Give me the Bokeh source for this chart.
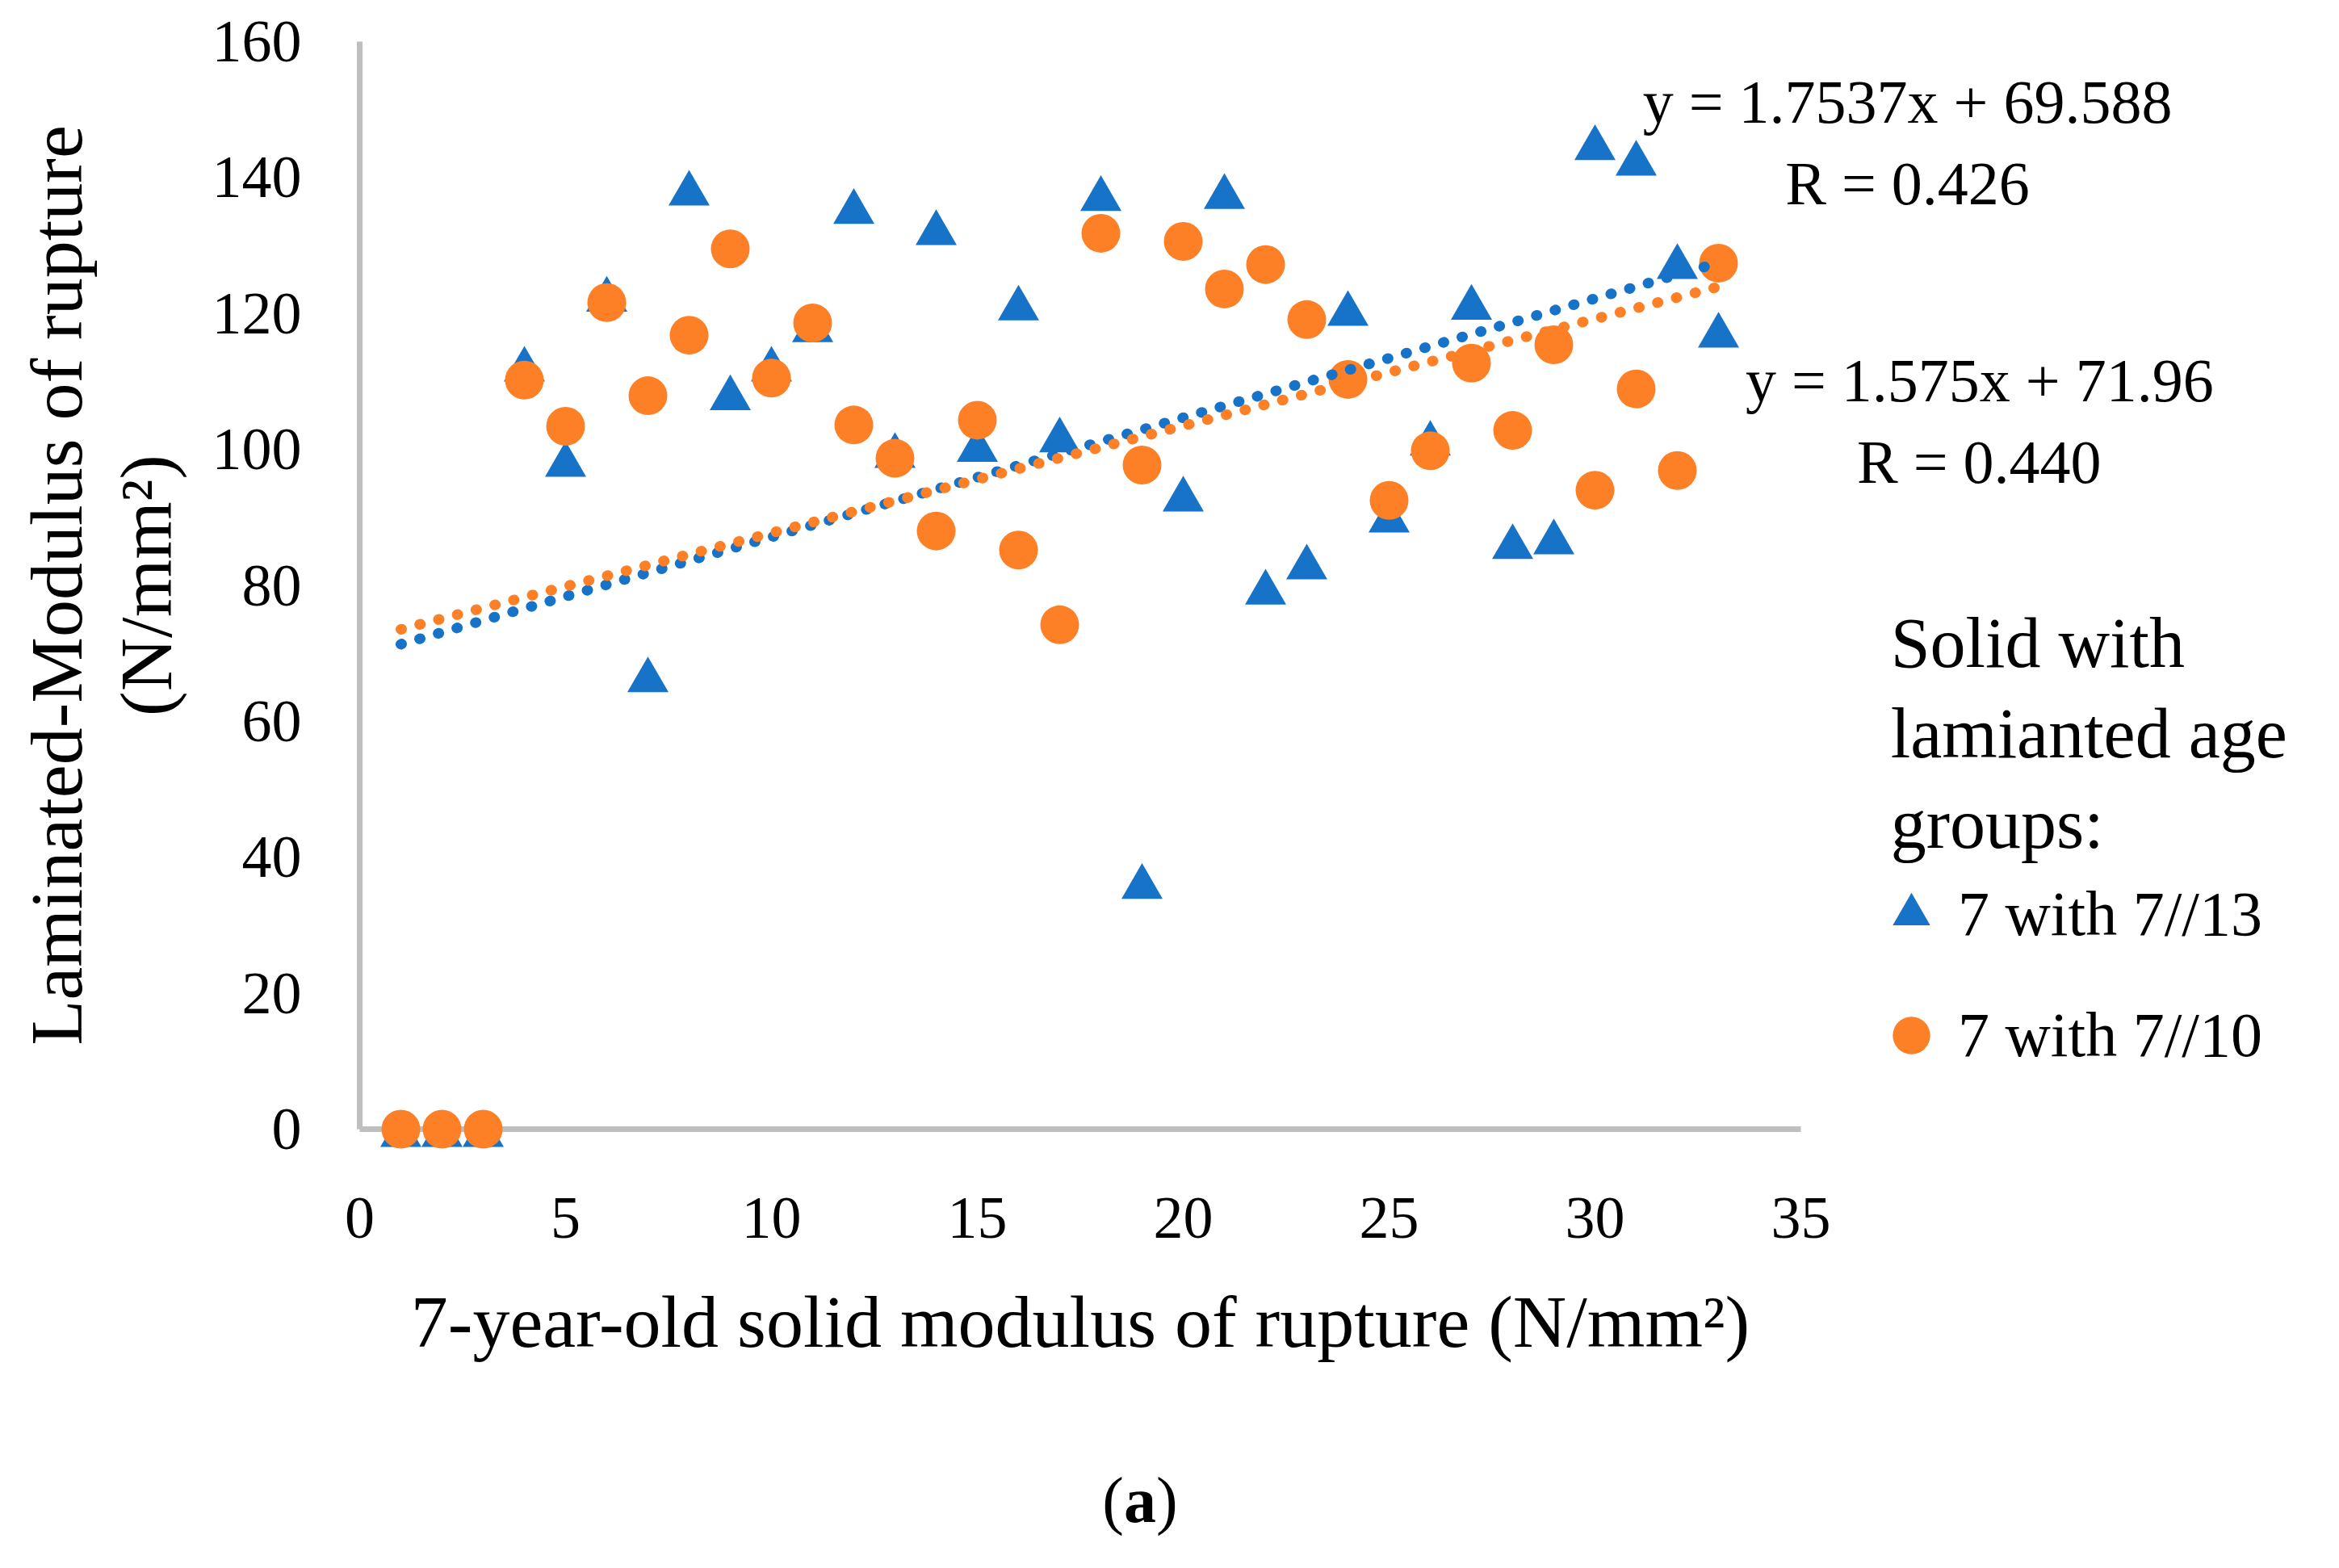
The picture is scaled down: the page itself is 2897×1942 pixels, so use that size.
import math

from bokeh.plotting import figure
from bokeh.models import (ColumnDataSource, Range1d, FixedTicker, Label,
                          Legend, LegendItem)
from bokeh.transform import dodge
from bokeh.embed import file_html
from bokeh.resources import INLINE

# data
sample = [1, 2, 3, 4, 5, 6, 7, 8, 9, 10, 11, 12, 13, 14, 15, 16, 17,
          18, 19, 20, 21, 22, 23, 24, 25, 26, 27, 28, 29, 30, 31, 32, 33]
lam_7_13 = [0, 0, 0, 112.6, 98.6, 122.9, 66.9, 138.5, 108.4, 112.6, 118.4,
            135.8, 99.9, 132.7, 100.8, 121.6, 102.2, 137.7, 36.5, 93.5, 138.0,
            79.8, 83.5, 120.8, 90.4, 101.7, 121.7, 86.5, 87.2, 145.2, 142.9,
            127.7, 117.6]
lam_7_10 = [0, 0, 0, 110.2, 103.4, 121.6, 107.9, 116.8, 129.5, 110.5, 118.6,
            103.6, 98.7, 88.0, 104.3, 85.2, 74.2, 131.8, 97.7, 130.6, 123.6,
            127.2, 119.1, 110.3, 92.5, 99.8, 112.7, 102.8, 115.4, 94.0, 108.9,
            96.9, 127.4]

# trendlines as given on the chart
trend_13 = (1.7537, 69.588)
trend_10 = (1.575, 71.96)
trend_x = [1, 33]

x_ticks = [0, 5, 10, 15, 20, 25, 30, 35]
y_ticks = [0, 20, 40, 60, 80, 100, 120, 140, 160]

BLUE = "#1773C8"
ORANGE = "#FD7F26"
GREY = "#BFBFBF"
FONT = "Liberation Serif"

# whole canvas is the frame; axes sit at x=0 / y=0
W, H = 2880, 1925
X0_PX, XPU = 445, 1785 / 35      # canvas px of x=0, px per x unit
Y0_PX, YPU = 1398, 1347 / 160    # canvas px (from top) of y=0, px per y unit

p = figure(width=W, height=H,
           x_range=Range1d(-X0_PX / XPU, (W - X0_PX) / XPU),
           y_range=Range1d(-(H - Y0_PX) / YPU, Y0_PX / YPU),
           output_backend="svg", toolbar_location=None,
           min_border=0)
p.outline_line_color = None
p.xgrid.visible = False
p.ygrid.visible = False

xax = p.xaxis[0]
xax.fixed_location = 0
xax.bounds = (0, 35)
xax.ticker = FixedTicker(ticks=x_ticks)
xax.level = "underlay"
xax.axis_line_color = GREY
xax.axis_line_width = 7
xax.major_tick_line_color = None
xax.minor_tick_line_color = None
xax.major_label_standoff = 79
xax.major_label_text_font = FONT
xax.major_label_text_font_size = "74px"
xax.major_label_text_color = "black"

yax = p.yaxis[0]
yax.fixed_location = 0
yax.bounds = (0, 160)
yax.ticker = FixedTicker(ticks=y_ticks)
yax.level = "underlay"
yax.axis_line_color = GREY
yax.axis_line_width = 7
yax.major_tick_line_color = None
yax.minor_tick_line_color = None
yax.major_label_standoff = 66
yax.major_label_text_font = FONT
yax.major_label_text_font_size = "74px"
yax.major_label_text_color = "black"

src = ColumnDataSource(dict(x=sample, b=lam_7_13, o=lam_7_10))

# triangle drawn around its box centre, like the spreadsheet marker
tri = p.scatter(x="x", y=dodge("b", -0.87), source=src, marker="triangle",
                size=51, fill_color=BLUE, line_color=None)
circ = p.scatter(x="x", y="o", source=src, marker="circle", size=48,
                 fill_color=ORANGE, line_color=None)

for (slope, icpt), col in ((trend_13, BLUE), (trend_10, ORANGE)):
    p.line(trend_x, [slope * v + icpt for v in trend_x], line_color=col,
           line_width=13, line_dash="1 23", line_cap="round")


def text(x, y, s, size, align="left", angle=0.0, style="normal", x_off=0):
    p.add_layout(Label(x=x, y=y, x_offset=x_off, text=s, angle=angle,
                       text_align=align, text_baseline="alphabetic",
                       text_font=FONT, text_font_size=size,
                       text_font_style=style, text_color="black"))


# axis titles
text(17.5, -28.3, "7-year-old solid modulus of rupture (N/mm\u00b2)", "92px", "center")
text(-7.37, 80, "Laminated-Modulus of rupture", "92px", "center", math.pi / 2)
text(-5.18, 80, "(N/mm\u00b2)", "92px", "center", math.pi / 2)

# trendline equations
text(37.59, 151.1, "y = 1.7537x + 69.588", "76px", "center")
text(37.59, 139.1, "R = 0.426", "76px", "center")
text(39.34, 110.2, "y = 1.575x + 71.96", "76px", "center")
text(39.33, 98.2, "R = 0.440", "76px", "center")

# legend title
text(37.18, 71.55, "Solid with", "88px")
text(37.18, 58.15, "lamianted age", "88px")
text(37.18, 44.95, "groups:", "88px")

legend = Legend(items=[LegendItem(label="7 with 7//13", renderers=[tri]),
                       LegendItem(label="7 with 7//10", renderers=[circ])],
                location=(2309, 585), glyph_width=116, glyph_height=116,
                spacing=34, label_standoff=0, padding=0, margin=0,
                border_line_color=None, background_fill_alpha=0,
                label_text_font=FONT, label_text_font_size="78px",
                label_text_color="black", label_text_baseline="middle")
p.add_layout(legend)

# panel caption "(a)" with bold letter
text(18.95, -54.6, "(", "80px", "right", x_off=-20)
text(18.95, -54.6, "a", "80px", "center", style="bold")
text(18.95, -54.6, ")", "80px", "left", x_off=20)

open("out.html", "w").write(file_html(p, INLINE))
